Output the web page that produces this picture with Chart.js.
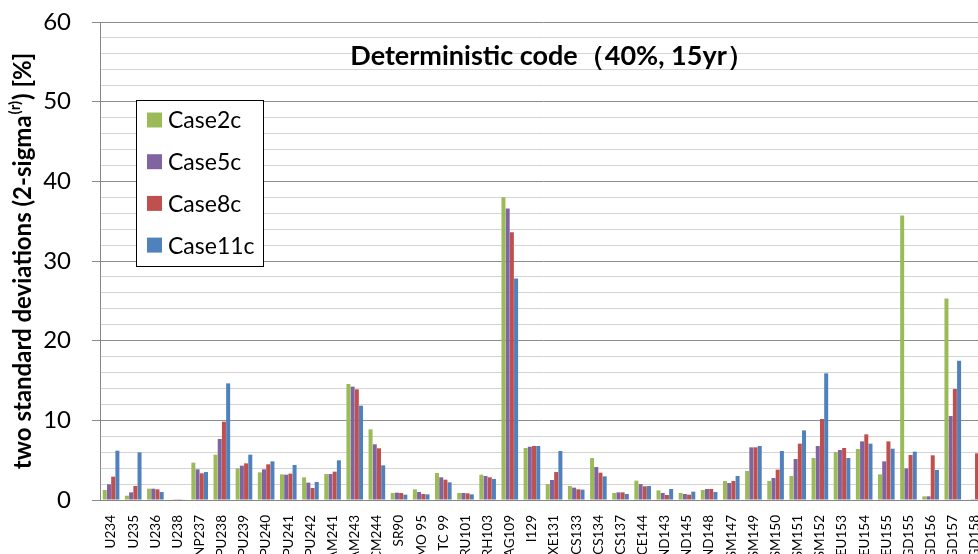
<!DOCTYPE html>
<html>
<head>
<meta charset="utf-8">
<script src="https://cdn.jsdelivr.net/npm/chart.js@4.4.0/dist/chart.umd.min.js"></script>
<style>
  html, body { margin: 0; padding: 0; background: #fff; overflow: hidden; }
  #wrap { position: relative; width: 978px; height: 554px; overflow: hidden; }
  canvas { position: absolute; left: 0; top: 0; }
</style>
</head>
<body>
<div id="wrap"><canvas id="c" width="990" height="600"></canvas></div>
<script>
const categories = ["U234","U235","U236","U238","NP237","PU238","PU239","PU240","PU241","PU242","AM241","AM243","CM244","SR90","MO 95","TC 99","RU101","RH103","AG109","I129","XE131","CS133","CS134","CS137","CE144","ND143","ND145","ND148","SM147","SM149","SM150","SM151","SM152","EU153","EU154","EU155","GD155","GD156","GD157","GD158"];
const case2c  = [1.26,0.54,1.42,0.05,4.69,5.69,3.97,3.47,3.22,2.85,3.26,14.56,8.87,0.88,1.34,3.39,0.88,3.18,38.0,6.53,2.0,1.76,5.27,0.88,2.43,1.21,0.88,1.26,2.38,3.64,2.38,3.01,5.27,6.03,6.4,3.22,35.7,0.46,25.3,0.05];
const case5c  = [1.97,0.96,1.42,0.1,3.85,7.66,4.31,3.85,3.18,2.18,3.26,14.23,6.99,0.92,1.0,2.85,0.88,3.01,36.6,6.69,2.51,1.55,4.14,0.96,2.0,0.88,0.75,1.38,2.13,6.61,2.76,5.15,6.78,6.28,7.36,4.85,3.97,0.46,10.54,0.1];
const case8c  = [2.93,1.76,1.34,0.1,3.35,9.83,4.6,4.48,3.31,1.51,3.56,13.89,6.49,0.88,0.75,2.55,0.84,2.85,33.6,6.78,3.51,1.34,3.43,0.96,1.72,0.63,0.67,1.38,2.38,6.61,3.81,7.07,10.17,6.53,8.24,7.36,5.65,5.61,13.93,5.86];
const case11c = [6.19,5.98,1.0,0.05,3.51,14.64,5.69,4.85,4.39,2.26,4.98,11.84,4.35,0.67,0.71,2.22,0.71,2.64,27.8,6.78,6.15,1.3,2.97,0.75,1.76,1.38,1.05,1.0,3.01,6.78,6.15,8.74,15.9,5.27,7.07,6.44,6.07,3.77,17.48,5.5];
const seriesNames = ["Case2c","Case5c","Case8c","Case11c"];
const yTickLabels = [0,10,20,30,40,50,60];
const chartTitle = "Deterministic code（40%, 15yr）";
const yTitleMain = "two standard deviations (2-sigma";
const yTitleSup = "(r)";
const yTitleEnd = ") [%]";

const colors = ["#9BBB59","#8064A2","#C0504D","#4F81BD"];
const FONT = "Lato, 'Open Sans', 'Liberation Sans', sans-serif";

const overlay = {
  id: 'overlay',
  afterDraw(chart) {
    const ctx = chart.ctx;
    const area = chart.chartArea;
    ctx.save();
    // Title
    ctx.fillStyle = '#000';
    ctx.font = "bold 27px " + FONT;
    ctx.textAlign = 'center';
    ctx.textBaseline = 'middle';
    ctx.fillText(chartTitle, 552, 56);

    // Y axis title with superscript
    ctx.translate(23, (area.top + area.bottom) / 2);
    ctx.rotate(-Math.PI / 2);
    const big = "bold 24px " + FONT, small = "bold 15px " + FONT;
    ctx.font = big; const w1 = ctx.measureText(yTitleMain).width; const w3 = ctx.measureText(yTitleEnd).width;
    ctx.font = small; const w2 = ctx.measureText(yTitleSup).width;
    const total = w1 + w2 + w3 + 2;
    let x = -total / 2;
    ctx.textAlign = 'left';
    ctx.textBaseline = 'middle';
    ctx.font = big; ctx.fillText(yTitleMain, x, 0); x += w1;
    ctx.font = small; ctx.fillText(yTitleSup, x + 1, -8); x += w2 + 2;
    ctx.font = big; ctx.fillText(yTitleEnd, x, 0);
    ctx.restore();

    // Legend
    ctx.save();
    const lx = 136, ly = 100, lw = 127, lh = 166;
    ctx.fillStyle = '#fff';
    ctx.fillRect(lx, ly, lw, lh);
    ctx.strokeStyle = '#000';
    ctx.lineWidth = 1;
    ctx.strokeRect(lx + 0.5, ly + 0.5, lw, lh);
    ctx.font = "23px " + FONT;
    ctx.textAlign = 'left';
    ctx.textBaseline = 'middle';
    chart.data.datasets.forEach((ds, i) => {
      const cy = 120 + i * 41.7;
      ctx.fillStyle = ds.backgroundColor;
      ctx.fillRect(147, cy - 7.5, 15, 15);
      ctx.fillStyle = '#000';
      ctx.fillText(ds.label, 168, cy + 1);
    });
    ctx.restore();
  }
};

const seriesData = [case2c, case5c, case8c, case11c];
new Chart(document.getElementById('c'), {
  type: 'bar',
  data: {
    labels: categories,
    datasets: seriesNames.map((n, i) => ({
      label: n,
      data: seriesData[i],
      backgroundColor: colors[i],
      borderWidth: 0,
      categoryPercentage: 0.76,
      barPercentage: 0.95
    }))
  },
  options: {
    responsive: false,
    animation: false,
    devicePixelRatio: 1,
    layout: { padding: { left: 0, right: 4, top: 22, bottom: 0 } },
    plugins: { legend: { display: false }, tooltip: { enabled: false }, title: { display: false } },
    scales: {
      x: {
        ticks: { autoSkip: false, maxRotation: 90, minRotation: 90, padding: 7, color: '#000', font: { family: FONT, size: 13.5 } },
        grid: { display: false },
        border: { color: '#868686', width: 1 },
        afterFit(s) { s.height = 100; s.paddingLeft = 0; s.paddingRight = 0; }
      },
      y: {
        min: 0, max: 60,
        ticks: {
          stepSize: 2, autoSkip: false, padding: 21, color: '#000',
          font: { family: FONT, size: 24 },
          callback: v => yTickLabels.includes(v) ? String(v) : ''
        },
        grid: {
          color: ctx => (ctx.tick && ctx.tick.value % 10 === 0) ? '#8c8c8c' : '#d4d4d4',
          tickColor: ctx => (ctx.tick && ctx.tick.value % 10 === 0) ? '#8c8c8c' : 'rgba(0,0,0,0)',
          tickLength: 8,
          lineWidth: 1
        },
        border: { color: '#868686', width: 1 },
        afterFit(s) { s.width = 100; s.paddingTop = 0; s.paddingBottom = 0; }
      }
    }
  },
  plugins: [overlay]
});
</script>
</body>
</html>
